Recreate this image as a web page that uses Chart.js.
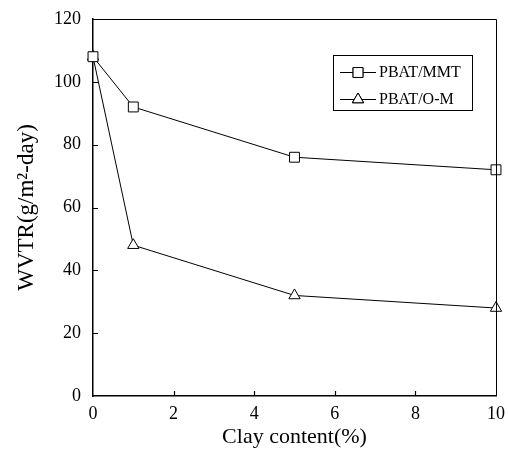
<!DOCTYPE html>
<html><head><meta charset="utf-8">
<script src="https://cdn.jsdelivr.net/npm/chart.js@4"></script>
<style>html,body{margin:0;padding:0;background:#fff;}#c{display:block;}</style>
</head><body>
<canvas id="c" width="508" height="450"></canvas>
<script>
const clayContent = [0, 1, 5, 10];
const mmtValues = [108, 92, 76, 72];
const omValues = [108, 48, 32, 28];
const seriesLabels = ['PBAT/MMT', 'PBAT/O-M'];
const xTicks = [0, 2, 4, 6, 8, 10];
const yTicks = [0, 20, 40, 60, 80, 100, 120];
const FONT = "'Liberation Serif', 'Times New Roman', serif";

const frame = {
  id: 'frame',
  afterDatasetsDraw(chart) {
    const {ctx, chartArea: a, scales} = chart;
    ctx.save();
    ctx.strokeStyle = '#000';
    ctx.lineWidth = 1;
    ctx.beginPath();
    ctx.moveTo(a.left, a.top + 0.5); ctx.lineTo(a.right + 0.5, a.top + 0.5);
    ctx.lineTo(a.right + 0.5, a.bottom);
    ctx.stroke();
    ctx.lineWidth = 1.2;
    ctx.beginPath();
    yTicks.forEach(v => {
      if (v === 0 || v === 120) return;
      const y = Math.round(scales.y.getPixelForValue(v)) + 0.5;
      ctx.moveTo(a.left, y); ctx.lineTo(a.left + 5, y);
    });
    xTicks.forEach(v => {
      if (v === 0 || v === 10) return;
      const x = Math.round(scales.x.getPixelForValue(v)) + 0.5;
      ctx.moveTo(x, a.bottom); ctx.lineTo(x, a.bottom - 5);
    });
    ctx.stroke();
    // legend
    const bx = 333.5, by = 55.5, bw = 139, bh = 55;
    ctx.fillStyle = '#fff';
    ctx.fillRect(bx, by, bw, bh);
    ctx.lineWidth = 1;
    ctx.strokeRect(bx, by, bw, bh);
    const rows = [72, 99];
    chart.data.datasets.forEach((ds, i) => {
      const y = rows[i];
      ctx.strokeStyle = '#000';
      ctx.lineWidth = 1;
      ctx.beginPath(); ctx.moveTo(340, y + 0.5); ctx.lineTo(376, y + 0.5); ctx.stroke();
      Chart.helpers.drawPoint(ctx, {pointStyle: ds.pointStyle, radius: ds.pointRadius, borderWidth: 1, rotation: 0}, 358, y + 0.5);
      ctx.fillStyle = '#fff';
      ctx.fill();
      ctx.stroke();
      ctx.fillStyle = '#000';
      ctx.font = "16px " + FONT;
      ctx.textBaseline = 'middle';
      ctx.textAlign = 'left';
      ctx.fillText(ds.label, 379, y + 1);
    });
    ctx.restore();
  }
};

new Chart(document.getElementById('c'), {
  type: 'line',
  data: {
    datasets: [
      { label: seriesLabels[0], data: clayContent.map((x, i) => ({x, y: mmtValues[i]})),
        borderColor: '#000', borderWidth: 1, pointStyle: 'rect', pointRadius: 7,
        pointBackgroundColor: '#fff', pointBorderColor: '#000', pointBorderWidth: 1, tension: 0, clip: false },
      { label: seriesLabels[1], data: clayContent.map((x, i) => ({x, y: omValues[i]})),
        borderColor: '#000', borderWidth: 1, pointStyle: 'triangle', pointRadius: 6.5,
        pointBackgroundColor: '#fff', pointBorderColor: '#000', pointBorderWidth: 1, tension: 0, clip: false }
    ]
  },
  options: {
    responsive: false,
    animation: false,
    layout: { padding: { left: 0, top: 19, right: 12, bottom: 0 } },
    plugins: { legend: { display: false }, tooltip: { enabled: false } },
    scales: {
      x: {
        type: 'linear', min: 0, max: 10,
        afterBuildTicks: s => { s.ticks = xTicks.map(v => ({value: v})); },
        afterFit: s => { s.height = 54; s.paddingLeft = 0; s.paddingRight = 0; },
        grid: { display: true, drawOnChartArea: false, drawTicks: false },
        border: { display: true, color: '#000', width: 1.5 },
        ticks: { color: '#000', font: { family: FONT, size: 18 }, padding: 7, maxRotation: 0 },
        title: { display: true, text: 'Clay content(%)', color: '#000', font: { family: FONT, size: 22 }, padding: { top: 0, bottom: 0 } }
      },
      y: {
        type: 'linear', min: 0, max: 120,
        afterBuildTicks: s => { s.ticks = yTicks.map(v => ({value: v})); },
        afterFit: s => { s.width = 93; s.paddingTop = 0; s.paddingBottom = 0; },
        grid: { display: true, drawOnChartArea: false, drawTicks: false },
        border: { display: true, color: '#000', width: 1.5 },
        ticks: { color: '#000', font: { family: FONT, size: 18 }, padding: 12 },
        title: { display: true, text: 'WVTR(g/m²-day)', color: '#000', font: { family: FONT, size: 23 }, padding: { top: 13, bottom: 0 } }
      }
    }
  },
  plugins: [frame]
});
</script>
</body></html>
